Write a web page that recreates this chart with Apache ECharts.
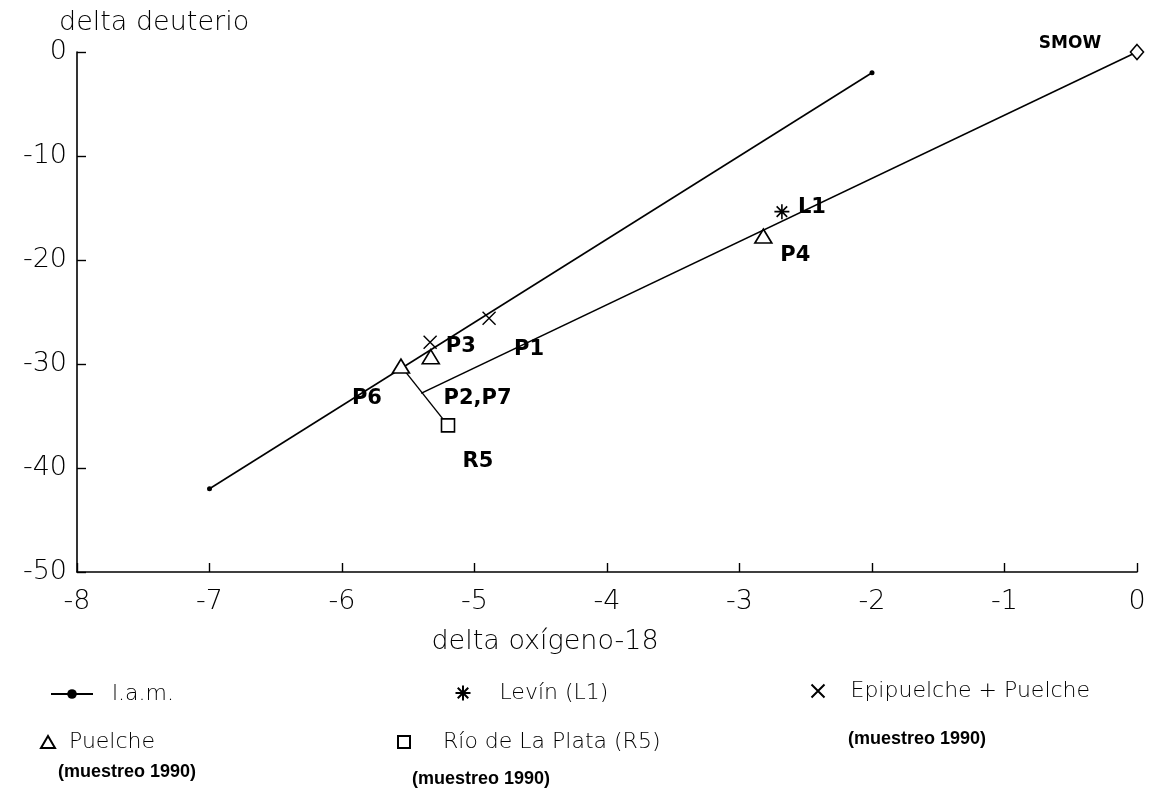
<!DOCTYPE html>
<html>
<head>
<meta charset="utf-8">
<title>delta deuterio vs delta oxígeno-18</title>
<script src="https://cdn.jsdelivr.net/npm/echarts@6/dist/echarts.min.js"></script>
<style>
  html, body { margin: 0; padding: 0; background: #ffffff; }
  #chart { width: 1152px; height: 792px; }
</style>
</head>
<body>
<div id="chart"></div>
<script>
// Línea de aguas meteóricas locales (l.a.m.)
const lamX = [-7, -2];
const lamY = [-42, -2];

// Recta desde P2,P7 hasta SMOW
const mixX = [-5.40, 0];
const mixY = [-32.8, 0];

// Unión P6 – R5
const linkX = [-5.555, -5.20];
const linkY = [-30.2, -35.9];

// Puelche (muestreo 1990)
const puelNames = ['P6', 'P3', 'P4'];
const puelX = [-5.555, -5.33, -2.82];
const puelY = [-30.2, -29.3, -17.7];

// Epipuelche + Puelche (muestreo 1990)
const epiNames = ['', 'P1'];
const epiX = [-5.335, -4.89];
const epiY = [-27.9, -25.6];

// Levín (L1)
const levX = [-2.68];
const levY = [-15.35];

// Río de La Plata (R5)
const rioX = [-5.20];
const rioY = [-35.9];

// SMOW
const smowX = [0];
const smowY = [0];

// Ejes
const xTicks = { min: -8, max: 0, step: 1 };
const yTicks = { min: -50, max: 0, step: 10 };

const thin = "'DejaVu Sans', 'Liberation Sans', sans-serif";
const boldFont = "bold 18px 'Liberation Sans', sans-serif";
const ink = '#000000';

function pairs(xs, ys) { return xs.map((x, i) => [x, ys[i]]); }

// offsets (px) of the point labels relative to their marks
const labelOffset = {
  P6: [-34, 32], P3: [30, -10], P4: [32, 19], P1: [40, 31],
  L1: [30, -4], R5: [30, 36], SMOW: [-67, -8], 'P2,P7': [56, 5]
};

function labelled(xs, ys, names, size) {
  return xs.map((x, i) => {
    const n = names[i];
    const item = { value: [x, ys[i]], name: n };
    if (n) {
      item.label = {
        show: true, formatter: n, position: 'inside', offset: labelOffset[n],
        fontFamily: "'DejaVu Sans', sans-serif", fontWeight: 'bold',
        fontSize: size || 21, color: ink
      };
    }
    return item;
  });
}

const hollow = { color: '#ffffff', borderColor: ink, borderWidth: 1.6, opacity: 1 };
const asterisk = 'path://M0,-10L0,10M-10,0L10,0M-7,-7L7,7M-7,7L7,-7';
const cross = 'path://M-10,-10L10,10M-10,10L10,-10';

const chart = echarts.init(document.getElementById('chart'), null, { renderer: 'canvas' });

const legendText = { fontFamily: thin, fontWeight: 200, fontSize: 22, color: ink };
const axisFont = { fontFamily: thin, fontWeight: 200, fontSize: 27, color: ink };

const option = {
  backgroundColor: '#ffffff',
  animation: false,
  grid: { left: 77, right: 15, top: 52, bottom: 220, containLabel: false },
  xAxis: {
    type: 'value', min: xTicks.min, max: xTicks.max, interval: xTicks.step,
    name: 'delta oxígeno-18', nameLocation: 'middle', nameGap: 56,
    nameTextStyle: Object.assign({ padding: [0, 124, 0, 0] }, axisFont),
    axisLine: { show: true, onZero: false, lineStyle: { color: ink, width: 1.6 } },
    axisTick: { show: true, inside: true, length: 9, lineStyle: { color: ink, width: 1.4 } },
    axisLabel: Object.assign({ margin: 16 }, axisFont),
    splitLine: { show: false }
  },
  yAxis: {
    type: 'value', min: yTicks.min, max: yTicks.max, interval: yTicks.step,
    name: 'delta deuterio', nameLocation: 'end', nameGap: 16,
    nameTextStyle: Object.assign({ align: 'left', padding: [0, 0, 0, -18] }, axisFont),
    axisLine: { show: true, onZero: false, lineStyle: { color: ink, width: 1.6 } },
    axisTick: { show: true, inside: true, length: 9, lineStyle: { color: ink, width: 1.4 } },
    axisLabel: Object.assign({ margin: 10 }, axisFont),
    splitLine: { show: false }
  },
  legend: [
    { data: ['l.a.m.'], left: 50, top: 683, padding: 0, itemWidth: 42, itemHeight: 12,
      textStyle: Object.assign({ padding: [0, 0, 0, 14] }, legendText) },
    { data: ['Levín (L1)'], left: 453, top: 682, padding: 0, itemWidth: 15, itemHeight: 15,
      textStyle: Object.assign({ padding: [0, 0, 0, 24] }, legendText) },
    { data: ['Epipuelche + Puelche'], left: 809, top: 680, padding: 0, itemWidth: 13, itemHeight: 13,
      textStyle: Object.assign({ padding: [0, 0, 0, 21] }, legendText) },
    { data: ['Puelche'], left: 40, top: 731, padding: 0, itemWidth: 14, itemHeight: 12,
      textStyle: Object.assign({ padding: [0, 0, 0, 9] }, legendText) },
    { data: ['Río de La Plata (R5)'], left: 397, top: 731, padding: 0, itemWidth: 12, itemHeight: 12,
      textStyle: Object.assign({ padding: [0, 0, 0, 28] }, legendText) }
  ],
  graphic: [
    { type: 'text', left: 58, top: 763, style: { text: '(muestreo 1990)', font: boldFont, fill: ink } },
    { type: 'text', left: 412, top: 770, style: { text: '(muestreo 1990)', font: boldFont, fill: ink } },
    { type: 'text', left: 848, top: 730, style: { text: '(muestreo 1990)', font: boldFont, fill: ink } }
  ],
  series: [
    {
      name: 'l.a.m.', type: 'line', data: pairs(lamX, lamY),
      symbol: 'circle', symbolSize: 5, showSymbol: true,
      lineStyle: { color: ink, width: 1.6 }, itemStyle: { color: ink }, z: 2
    },
    {
      name: 'recta SMOW', type: 'line',
      data: labelled(mixX, mixY, ['P2,P7', '']),
      symbol: 'circle', symbolSize: 1, showSymbol: true,
      lineStyle: { color: ink, width: 1.6 }, itemStyle: { color: ink }, z: 2
    },
    {
      name: 'P6-R5', type: 'line', data: pairs(linkX, linkY),
      symbol: 'none', lineStyle: { color: ink, width: 1.4 }, z: 2
    },
    {
      name: 'Puelche', type: 'scatter', data: labelled(puelX, puelY, puelNames),
      symbol: 'triangle', symbolSize: [17, 14], itemStyle: hollow, z: 4
    },
    {
      name: 'Epipuelche + Puelche', type: 'scatter', data: labelled(epiX, epiY, epiNames),
      symbol: cross, symbolSize: 13, itemStyle: { color: 'none', borderColor: ink, borderWidth: 1.4, opacity: 1 }, z: 3
    },
    {
      name: 'Levín (L1)', type: 'scatter', data: labelled(levX, levY, ['L1']),
      symbol: asterisk, symbolSize: 15, itemStyle: { color: 'none', borderColor: ink, borderWidth: 1.6, opacity: 1 }, z: 3
    },
    {
      name: 'Río de La Plata (R5)', type: 'scatter', data: labelled(rioX, rioY, ['R5']),
      symbol: 'rect', symbolSize: 13, itemStyle: hollow, z: 4
    },
    {
      name: 'SMOW', type: 'scatter', data: labelled(smowX, smowY, ['SMOW'], 17),
      symbol: 'diamond', symbolSize: [13, 15], itemStyle: hollow, z: 4
    }
  ]
};

chart.setOption(option);
</script>
</body>
</html>
